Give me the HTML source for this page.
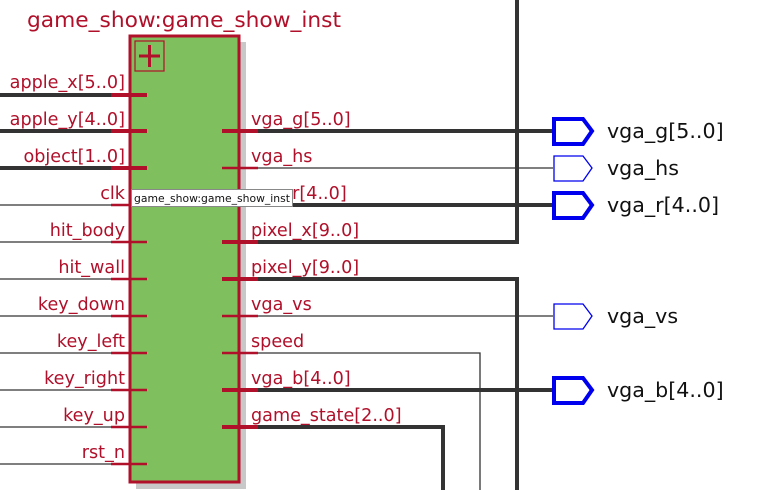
<!DOCTYPE html>
<html><head><meta charset="utf-8"><style>html,body{margin:0;padding:0;background:#fff;width:758px;height:490px;overflow:hidden}</style></head>
<body>
<svg width="758" height="490" xmlns="http://www.w3.org/2000/svg" style="display:block">
<g font-family="'DejaVu Sans', 'Liberation Sans', sans-serif">
<g stroke="#333" fill="none">
<path d="M258 242 H517 V0" stroke-width="4"/>
<path d="M258 279 H517 V490" stroke-width="4"/>
<path d="M258 427 H443 V490" stroke-width="4"/>
<path d="M258 353 H480 V490" stroke-width="1.3"/>
<path d="M258 131 H553" stroke-width="4"/>
<path d="M258 205 H553" stroke-width="4"/>
<path d="M258 390 H553" stroke-width="4"/>
<path d="M258 168 H553" stroke-width="1.3"/>
<path d="M258 316 H553" stroke-width="1.3"/>
<path d="M0 95 H112 M0 131 H112 M0 168 H112" stroke-width="4"/>
<path d="M0 205 H112 M0 242 H112 M0 279 H112 M0 316 H112 M0 353 H112 M0 390 H112 M0 427 H112 M0 464 H112" stroke-width="1.3"/>
</g>
<rect x="136" y="42" width="110" height="447" fill="#c8c8c8"/>
<rect x="130" y="36" width="109" height="446" fill="#80bf5e" stroke="#b0102a" stroke-width="3"/>
<rect x="135" y="41" width="29" height="30" fill="none" stroke="#b0102a" stroke-width="1.2"/>
<path d="M149.5 45 V67 M139 56 H160" stroke="#b0102a" stroke-width="3"/>
<g stroke="#b0102a">
<path d="M111 95 H147 M111 131 H147 M111 168 H147 M222 131 H258 M222 205 H258 M222 242 H258 M222 279 H258 M222 390 H258 M222 427 H258" stroke-width="4"/>
<path d="M111 205 H147 M111 242 H147 M111 279 H147 M111 316 H147 M111 353 H147 M111 390 H147 M111 427 H147 M111 464 H147 M222 168 H258 M222 316 H258 M222 353 H258" stroke-width="2.5"/>
</g>
<text x="27" y="27" font-size="21" fill="#b0102a" textLength="314" lengthAdjust="spacingAndGlyphs">game_show:game_show_inst</text>
<g font-size="17.6" fill="#b0102a" text-anchor="end">
<text x="125" y="88">apple_x[5..0]</text>
<text x="125" y="125">apple_y[4..0]</text>
<text x="125" y="162">object[1..0]</text>
<text x="125" y="199">clk</text>
<text x="125" y="236">hit_body</text>
<text x="125" y="273">hit_wall</text>
<text x="125" y="310">key_down</text>
<text x="125" y="347">key_left</text>
<text x="125" y="384">key_right</text>
<text x="125" y="421">key_up</text>
<text x="125" y="458">rst_n</text>
</g>
<g font-size="17.6" fill="#b0102a">
<text x="251" y="125">vga_g[5..0]</text>
<text x="251" y="162">vga_hs</text>
<text x="251" y="199">vga_r[4..0]</text>
<text x="251" y="236">pixel_x[9..0]</text>
<text x="251" y="273">pixel_y[9..0]</text>
<text x="251" y="310">vga_vs</text>
<text x="251" y="347">speed</text>
<text x="251" y="384">vga_b[4..0]</text>
<text x="251" y="421">game_state[2..0]</text>
</g>
<g fill="#fff" stroke="#0000ee">
<path d="M554 119 H583 L592 131 L583 144 H554 Z" stroke-width="4"/>
<path d="M554 156 H583 L592 168 L583 181 H554 Z" stroke-width="1.3"/>
<path d="M554 193 H583 L592 205 L583 218 H554 Z" stroke-width="4"/>
<path d="M554 304 H583 L592 316 L583 329 H554 Z" stroke-width="1.3"/>
<path d="M554 378 H583 L592 390 L583 403 H554 Z" stroke-width="4"/>
</g>
<g font-size="20.6" fill="#111">
<text x="607" y="138">vga_g[5..0]</text>
<text x="607" y="175">vga_hs</text>
<text x="607" y="212">vga_r[4..0]</text>
<text x="607" y="323">vga_vs</text>
<text x="607" y="397">vga_b[4..0]</text>
</g>
<rect x="131.5" y="189.5" width="161" height="17" fill="#fff" stroke="#888"/>
<text x="134" y="202" font-size="11" fill="#111" textLength="156" lengthAdjust="spacingAndGlyphs">game_show:game_show_inst</text>
</g>
</svg>
</body></html>
